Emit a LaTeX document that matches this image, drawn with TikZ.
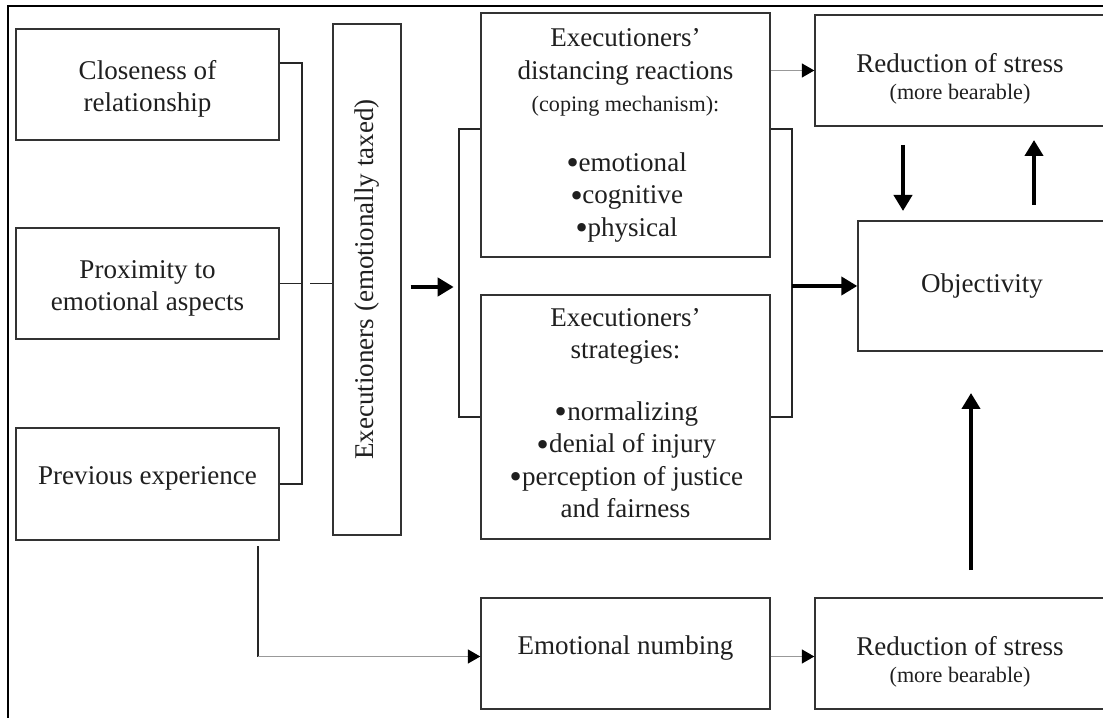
\documentclass[tikz,border=0pt]{standalone}
\usepackage{fontspec}
\setmainfont{Liberation Serif}
\newfontfamily\dejavu{DejaVu Sans}
\usepackage{tikz}
\usetikzlibrary{arrows.meta,positioning,calc}
\newcommand{\lift}[2]{\raisebox{#1}[\height][\depth]{\begin{tabular}{@{}c@{}}#2\end{tabular}}}
\newcommand{\sm}[1]{{\fontsize{12.6}{15}\selectfont #1}}
\newcommand{\bul}{\raisebox{-1.4pt}{\dejavu\fontsize{16.5}{18.5}\selectfont\textbullet}\kern-1.6pt}

\begin{document}
\begin{tikzpicture}[
  box/.style={draw=black!80, line width=0.8pt, text=black!88, inner sep=0pt,
    font=\fontsize{15.4}{18.5}\selectfont},
  link/.style={draw=black!85, line width=0.7pt},
  heavy/.style={line width=2.8pt, -{Triangle[length=0.32cm,width=0.36cm]}},
  light/.style={draw=black!40, line width=0.8pt, -{Triangle[length=0.25cm,width=0.28cm,color=black]}}]
\useasboundingbox (0,0) rectangle (22.06,-14.36);
\clip (0,0) rectangle (22.06,-14.36);
\draw[line width=1.3pt] (0.154,-14.6) -- (0.154,-0.116) -- (22.3,-0.116);

\node[box, minimum width=5.26cm, minimum height=2.22cm] (clos) at (2.95,-1.69) {\lift{-0.09cm}{Closeness of\\relationship}};
\node[box, minimum width=5.26cm, minimum height=2.22cm] (prox) at (2.95,-5.67) {\lift{-0.09cm}{Proximity to\\emotional aspects}};
\node[box, minimum width=5.26cm, minimum height=2.24cm] (prev) at (2.95,-9.68) {\lift{0.12cm}{Previous experience}};
\node[box, rotate=90, minimum width=10.22cm, minimum height=1.36cm] (exec) at (7.34,-5.59) {Executioners (emotionally taxed)};
\node[box, minimum width=5.78cm, minimum height=4.88cm] (dist) at (12.51,-2.70) {\lift{0cm}{Executioners'\\distancing reactions\\\sm{(coping mechanism):}\\[-3pt]\\\bul emotional\\\bul cognitive\\\bul physical}};
\node[box, minimum width=5.78cm, minimum height=4.88cm] (strat) at (12.51,-8.34) {\lift{0.03cm}{Executioners'\\strategies:\\[-2pt]\\\bul normalizing\\\bul denial of injury\\\bul perception of justice\\and fairness}};
\node[box, minimum width=5.78cm, minimum height=2.22cm] (numb) at (12.51,-13.07) {\lift{0.12cm}{Emotional numbing}};
\node[box, minimum width=5.80cm, minimum height=2.22cm] (redtop) at (19.20,-1.41) {\lift{-0.18cm}{Reduction of stress\\[-3pt]\sm{(more bearable)}}};
\node[box, minimum width=4.96cm, minimum height=2.60cm] (obj) at (19.64,-5.72) {Objectivity};
\node[box, minimum width=5.80cm, minimum height=2.22cm] (redbot) at (19.20,-13.07) {\lift{-0.18cm}{Reduction of stress\\[-3pt]\sm{(more bearable)}}};

\coordinate (lbr) at (6.04,0);
\coordinate (lt) at (9.18,-2.58);
\coordinate (rt) at (15.84,-2.58);
\coordinate (pv) at (5.16,-10.92);
\coordinate (pc) at (5.16,-13.13);
\coordinate (dn1) at (18.06,-2.90);
\coordinate (dn2) at (18.06,-4.22);
\coordinate (up1) at (20.68,-4.10);
\coordinate (up2) at (20.68,-2.80);
\coordinate (up3) at (19.42,-11.40);
\coordinate (up4) at (19.42,-7.86);

\draw[link] ([yshift=0.43cm]clos.east) -| (lbr |- prev.east) -- (prev.east);
\draw[link] (prox.east) -- (prox.east -| lbr);
\draw[link] ([xshift=0.16cm]prox.east -| lbr) -- (prox.east -| exec.north);
\draw[heavy] ([xshift=0.18cm,yshift=-0.15cm]exec.south) -- ++(0.86,0);
\draw[link] (lt -| dist.west) -- (lt) -- (lt |- strat.west) -- (strat.west);
\draw[link] (rt -| dist.east) -- (rt) -- (rt |- strat.east) -- (strat.east);
\draw[heavy] (rt |- obj.west) -- (obj.west);
\draw[light] (dist.east |- redtop.west) -- (redtop.west);
\draw[heavy] (dn1) -- (dn2);
\draw[heavy] (up1) -- (up2);
\draw[heavy] (up3) -- (up4);
\draw[link] (pv) -- (pc);
\draw[light] (pc) -- (pc -| numb.west);
\draw[light] ([yshift=-0.06cm]numb.east) -- ([yshift=-0.06cm]redbot.west);
\end{tikzpicture}
\end{document}
